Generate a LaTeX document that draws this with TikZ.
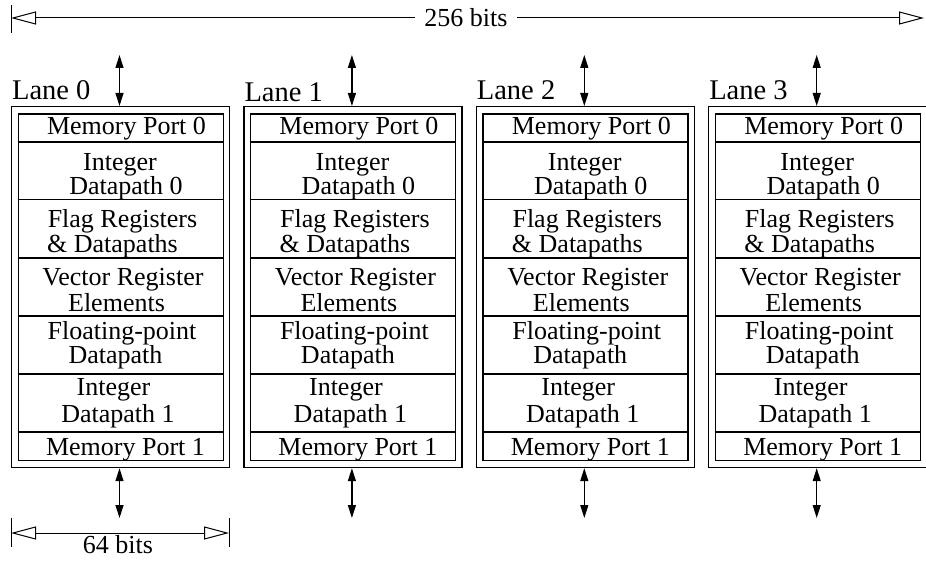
\documentclass[tikz,border=0pt]{standalone}
\usepackage{fontspec}
\setmainfont{Liberation Serif}
\usetikzlibrary{arrows.meta}
\begin{document}
\begin{tikzpicture}[x=1pt,y=-1pt, line width=1.2pt,
  txt/.style={font=\fontsize{26}{26}\selectfont, inner sep=0pt, anchor=base},
  lanelbl/.style={font=\fontsize{28.5}{28.5}\selectfont, inner sep=0pt, anchor=base west},
  outerbox/.style={draw, line width=1.2pt, minimum width=218pt, minimum height=361pt, inner sep=0pt, anchor=north west},
  innerbox/.style={draw, line width=1.2pt, minimum width=205pt, minimum height=346.5pt, inner sep=0pt, anchor=north west},
  dbl/.style={{Triangle[length=13pt,width=8pt]}-{Triangle[length=13pt,width=8pt]}, line width=1.2pt},
  dimline/.style={{Triangle[open,length=25pt,width=13pt]}-{Triangle[open,length=25pt,width=13pt]}, line width=1pt},
  dimbar/.style={line width=1pt},
  dimtxt/.style={font=\fontsize{26}{26}\selectfont, inner sep=0pt}]
\useasboundingbox (0,0) rectangle (926,561);

% top dimension
\coordinate (tl) at (11,18);
\coordinate (tr) at (924,18);
\coordinate (tlbt) at (11,5);
\coordinate (tlbb) at (11,33);
\draw[dimbar] (tlbt) -- (tlbb);
\draw[dimline] (tl) -- (tr);
\node[dimtxt, fill=white, inner xsep=9pt, inner ysep=2pt] (w256) at (466,17.5) {256 bits};

% lanes
\foreach \i in {0,1,2,3} {
  \pgfmathsetmacro\xo{11+232.4*\i}
  \pgfmathsetmacro\cx{\xo+108.5}
  \pgfmathsetmacro\ly{ifthenelse(\i==1,102,99.5)}
  \node[outerbox] (lane\i) at (\xo,106) {};
  \node[innerbox] (in\i) at (\xo+6.5,113.5) {};
  \node[lanelbl] (lbl\i) at (\xo+0.5,\ly) {Lane \i};
  \foreach \yy [count=\k] in {142,199.5,258,316,374,432} {
    \coordinate (dl\i\k) at (\xo+6.5,\yy);
    \coordinate (dr\i\k) at (\xo+211.5,\yy);
    \draw (dl\i\k) -- (dr\i\k);
  }
  \node[txt] (mp0\i) at (\cx+7,135) {Memory Port 0};
  \node[txt] (ia\i) at (\cx+0.5,171) {Integer};
  \node[txt] (ib\i) at (\cx+6.5,195) {Datapath 0};
  \node[txt] (fa\i) at (\cx+3,228) {Flag Registers};
  \node[txt] (fb\i) at (\cx-7,253) {\& Datapaths};
  \node[txt] (va\i) at (\cx+3.5,286) {Vector Register};
  \node[txt] (vb\i) at (\cx-3,311) {Elements};
  \node[txt] (pa\i) at (\cx+2.5,339) {Floating-point};
  \node[txt] (pb\i) at (\cx-4,363) {Datapath};
  \node[txt] (ja\i) at (\cx-6,395) {Integer};
  \node[txt] (jb\i) at (\cx-1.5,422) {Datapath 1};
  \node[txt] (mp1\i) at (\cx+6,455) {Memory Port 1};
  \coordinate (at\i) at (\cx,55);
  \coordinate (ab\i) at (\cx,518);
  \draw[dbl] (at\i) -- (lane\i.north -| at\i);
  \draw[dbl] (lane\i.south -| ab\i) -- (ab\i);
}

% bottom dimension
\coordinate (bl) at (11,533);
\coordinate (br) at (229,533);
\coordinate (blt) at (11,518);
\coordinate (blb) at (11,547);
\coordinate (brt) at (229,518);
\coordinate (brb) at (229,547);
\draw[dimbar] (blt) -- (blb);
\draw[dimbar] (brt) -- (brb);
\draw[dimline] (bl) -- (br);
\node[dimtxt, anchor=base] (w64) at (118,553) {64 bits};
\end{tikzpicture}
\end{document}
